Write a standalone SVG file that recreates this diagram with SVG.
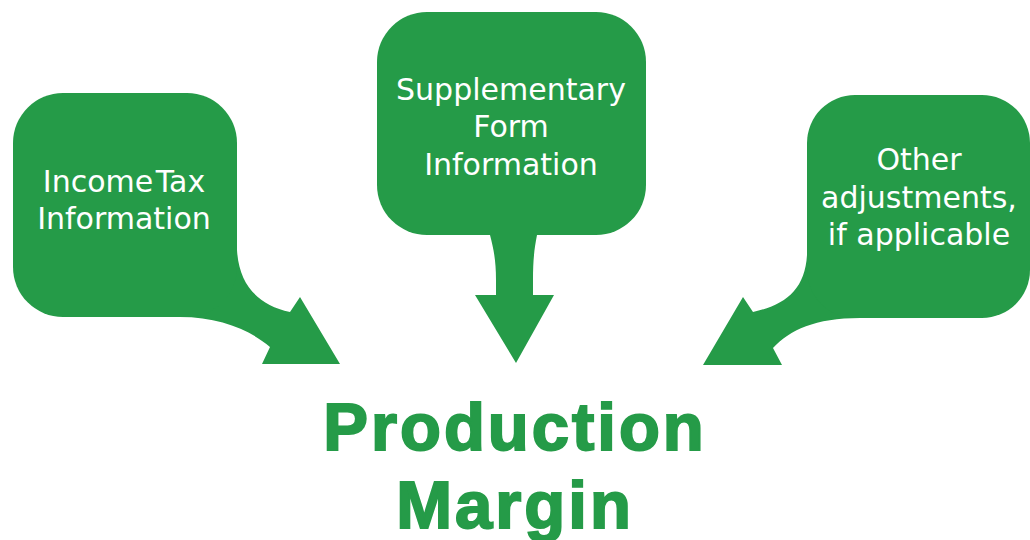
<svg xmlns="http://www.w3.org/2000/svg" width="1030" height="540" viewBox="0 0 1030 540">
<style>
.box{fill:#259B48}
.arr{fill:#259B48}
.lbl{font-family:"DejaVu Sans",sans-serif;font-size:30px;fill:#ffffff;text-anchor:middle}
.title{font-family:"Liberation Sans",Arial,sans-serif;font-weight:bold;font-size:67px;fill:#259B48;stroke:#259B48;stroke-width:2;text-anchor:middle;letter-spacing:3px}
</style>
<rect width="1030" height="540" fill="#ffffff"/>
<g id="connectors">
<path class="arr" d="M180,200 L237,200 L237,250 C239,285 258,305 290,312 L300,297 L340,364 L262,364 L270,347 C250,330 220,317 180,317 Z"/>
<path class="arr" d="M490,220 L490,235 C494,250 496,262 496,280 L496,295 L475,295 L516,363 L554,295 L533,295 L533,280 C533,262 534,250 537,235 L537,220 Z"/>
<path class="arr" d="M860,200 L807,200 L807,255 C805,290 785,305 753,312 L743,297 L703,365 L782,365 L773,348 C790,330 815,318 860,318 Z"/>
</g>
<g id="income-tax">
<rect class="box" x="13" y="93" width="224" height="224" rx="50"/>
<text class="lbl" x="124" y="192" word-spacing="-7">Income Tax</text>
<text class="lbl" x="124" y="229">Information</text>
</g>
<g id="supplementary">
<rect class="box" x="377" y="12" width="269" height="223" rx="50"/>
<text class="lbl" x="511" y="100">Supplementary</text>
<text class="lbl" x="511" y="137">Form</text>
<text class="lbl" x="511" y="175">Information</text>
</g>
<g id="other">
<rect class="box" x="807" y="95" width="223" height="223" rx="48"/>
<text class="lbl" x="919" y="170">Other</text>
<text class="lbl" x="919" y="208">adjustments,</text>
<text class="lbl" x="919" y="245">if applicable</text>
</g>
<g id="production-margin">
<text class="title" x="515" y="450">Production</text>
<text class="title" x="515" y="528">Margin</text>
</g>
</svg>
